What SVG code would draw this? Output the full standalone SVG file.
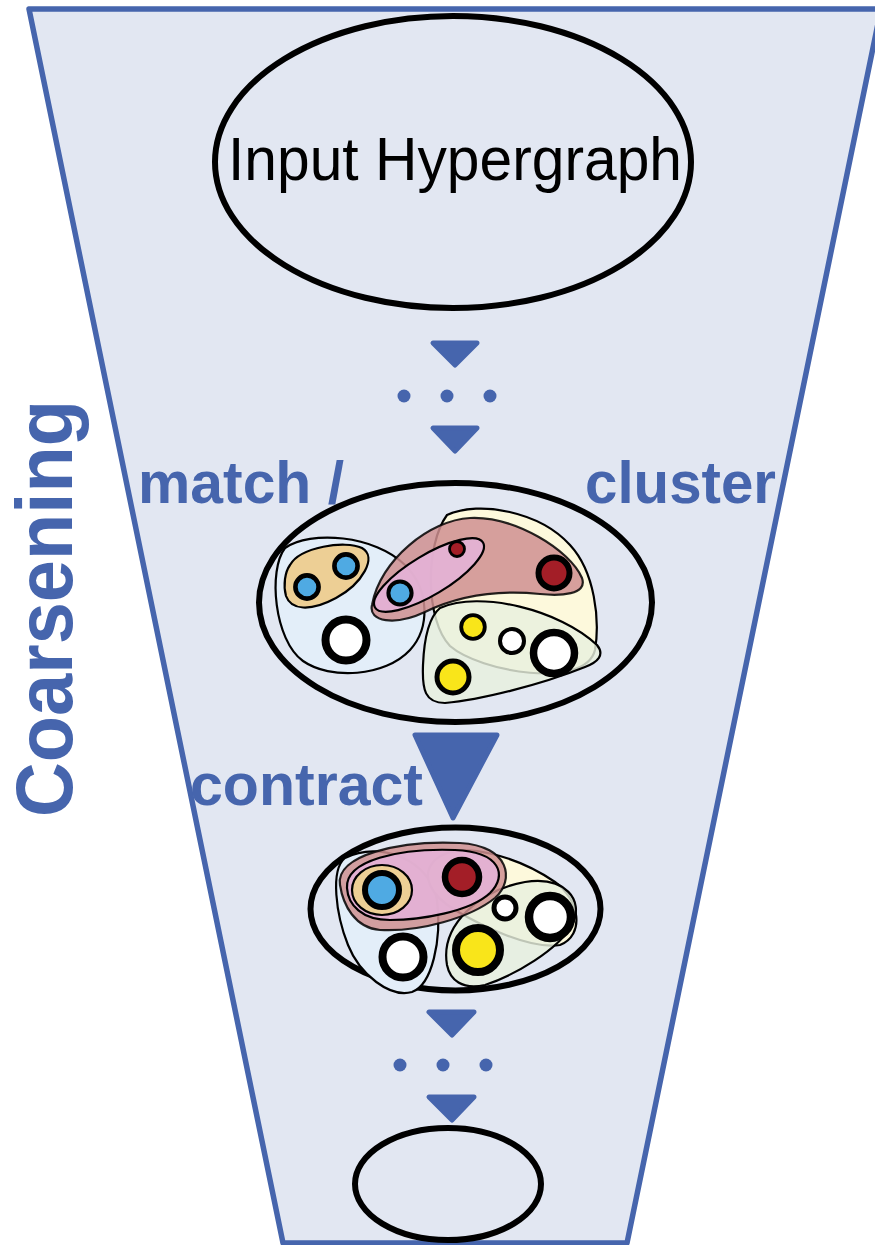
<svg xmlns="http://www.w3.org/2000/svg" width="875" height="1245" viewBox="0 0 875 1245">
  <defs>
    <style>
      .frame { fill: #e2e7f2; stroke: #4665ad; stroke-width: 5.5; stroke-linejoin: round; }
      .lbl { font-family: "Liberation Sans", Arial, sans-serif; font-weight: bold; fill: #4665ad; }
      .title { font-family: "Liberation Sans", Arial, sans-serif; fill: #000; }
      .graph { fill: none; stroke: #000; stroke-width: 6; }
      .arrow { fill: #4665ad; stroke: #4665ad; stroke-width: 5; stroke-linejoin: round; }
      .dot { fill: #4665ad; }
      .edge { stroke: #000; stroke-width: 2.2; }
      .e-blue { fill: #e3eef9; }
      .e-orange { fill: #edcf95; }
      .e-cream { fill: #fdf9dc; }
      .e-green { fill: #e8f0de; fill-opacity: 0.82; }
      .e-red { fill: #cf8f91; fill-opacity: 0.85; stroke-opacity: 0.85; }
      .e-pink { fill: #e4b2d6; fill-opacity: 0.92; }
      .v { stroke: #000; }
      .v-blue { fill: #4faae3; }
      .v-red { fill: #a31e27; }
      .v-yel { fill: #f9e51a; }
      .v-wht { fill: #fff; }
    </style>
  </defs>

  <!-- coarsening funnel -->
  <polygon class="frame" points="29,9 881,9 627,1243 283,1243"/>
  <text class="lbl" font-size="80" textLength="417" lengthAdjust="spacingAndGlyphs" transform="translate(72,817) rotate(-90)">Coarsening</text>

  <!-- level arrows and ellipsis dots -->
  <g id="connectors">
    <polygon class="arrow" points="433,343 477,343 455,365"/>
    <circle class="dot" cx="404" cy="396" r="6.5"/>
    <circle class="dot" cx="447" cy="396" r="6.5"/>
    <circle class="dot" cx="490" cy="396" r="6.5"/>
    <polygon class="arrow" points="433,428 477,428 455,451"/>

    <polygon class="arrow" points="415,735 497,735 453,818" stroke-width="6"/>

    <polygon class="arrow" points="429,1012 474,1012 452,1035"/>
    <circle class="dot" cx="400" cy="1065" r="6.5"/>
    <circle class="dot" cx="443" cy="1065" r="6.5"/>
    <circle class="dot" cx="486" cy="1065" r="6.5"/>
    <polygon class="arrow" points="429,1097 474,1097 452,1120"/>
  </g>

  <!-- step labels -->
  <text class="lbl" x="138" y="503" font-size="60" textLength="206" lengthAdjust="spacingAndGlyphs">match /</text>
  <text class="lbl" x="585" y="503" font-size="60" textLength="191" lengthAdjust="spacingAndGlyphs">cluster</text>
  <text class="lbl" x="190" y="805" font-size="60" textLength="233" lengthAdjust="spacingAndGlyphs">contract</text>

  <!-- input hypergraph -->
  <g id="input">
    <ellipse class="graph" cx="453" cy="162" rx="238" ry="146"/>
    <text class="title" x="228" y="180" font-size="62" textLength="454" lengthAdjust="spacingAndGlyphs">Input Hypergraph</text>
  </g>

  <!-- level before contraction, with clusters -->
  <g id="level-fine">
    <ellipse class="graph" cx="455.5" cy="602.5" rx="196.5" ry="119.5"/>
    <path class="edge e-blue" d="M285,548 C310,530 375,535 405,565 C430,590 430,628 410,650 C385,677 330,680 303,661 C274,640 268,570 285,548 Z"/>
    <path class="edge e-orange" d="M290,565 C300,547 345,540 362,548 C378,557 362,584 336,598 C310,612 291,610 286,596 C283,585 285,572 290,565 Z"/>
    <path class="edge e-cream" d="M447,515 C480,500 540,512 570,545 C595,572 600,620 595,650 C585,690 480,672 450,646 C425,620 425,545 447,515 Z"/>
    <path class="edge e-green" d="M440,608 C480,590 560,610 597,645 C605,655 598,662 585,667 C540,685 480,700 445,703 C425,703 422,690 423,665 C424,640 428,618 440,608 Z"/>
    <path class="edge e-red" d="M372,605 C380,560 430,520 470,518 C515,516 570,550 582,578 C588,595 560,596 540,594 C500,590 460,595 425,612 C395,626 368,622 372,605 Z"/>
    <ellipse class="edge e-pink" cx="429" cy="575" rx="63" ry="20" transform="rotate(-31 429 575)"/>
    <circle class="v v-blue" cx="307" cy="587" r="11.6" stroke-width="4.6"/>
    <circle class="v v-blue" cx="346" cy="566" r="11.6" stroke-width="4.6"/>
    <circle class="v v-wht" cx="346" cy="640" r="20.5" stroke-width="8"/>
    <circle class="v v-red" cx="457" cy="549" r="7.5" stroke-width="2.8"/>
    <circle class="v v-blue" cx="400" cy="593" r="11.6" stroke-width="4"/>
    <circle class="v v-red" cx="554" cy="573" r="15.5" stroke-width="6"/>
    <circle class="v v-yel" cx="473" cy="627" r="11.8" stroke-width="3.8"/>
    <circle class="v v-wht" cx="512" cy="641" r="12" stroke-width="4"/>
    <circle class="v v-wht" cx="554" cy="653" r="20.5" stroke-width="7.5"/>
    <circle class="v v-yel" cx="453" cy="677" r="16" stroke-width="5"/>
  </g>

  <!-- contracted level -->
  <g id="level-coarse">
    <ellipse class="graph" cx="455.5" cy="909" rx="145" ry="81.5"/>
    <path class="edge e-blue" d="M345,858 C380,840 430,860 437,900 C442,940 432,985 412,992 C390,998 360,975 348,945 C336,915 330,870 345,858 Z"/>
    <path class="edge e-cream" d="M435,860 C460,838 520,858 555,882 C580,900 585,935 560,945 C530,950 480,925 455,910 C430,895 420,875 435,860 Z"/>
    <path class="edge e-green" d="M447,965 C440,925 480,890 525,882 C565,876 585,900 572,925 C558,950 515,975 485,985 C462,990 450,980 447,965 Z"/>
    <path class="edge e-red" d="M340,885 C335,855 400,840 460,843 C510,846 515,880 495,898 C470,918 420,932 380,930 C355,928 343,905 340,885 Z"/>
    <path class="edge e-pink" d="M347,888 C345,860 400,848 455,850 C500,852 508,875 490,893 C470,912 420,920 390,920 C362,920 348,905 347,888 Z"/>
    <ellipse class="edge e-orange" cx="382" cy="890" rx="30" ry="25"/>
    <circle class="v v-blue" cx="382" cy="890" r="17" stroke-width="6"/>
    <circle class="v v-red" cx="462" cy="877" r="17" stroke-width="6.5"/>
    <circle class="v v-wht" cx="505" cy="908" r="11" stroke-width="5"/>
    <circle class="v v-wht" cx="550" cy="917" r="21" stroke-width="8.5"/>
    <circle class="v v-yel" cx="478" cy="950" r="22" stroke-width="8"/>
    <circle class="v v-wht" cx="403" cy="957" r="20.5" stroke-width="8"/>
  </g>

  <!-- coarsest level -->
  <g id="level-coarsest">
    <ellipse class="graph" cx="448" cy="1184" rx="93" ry="56"/>
  </g>
</svg>
